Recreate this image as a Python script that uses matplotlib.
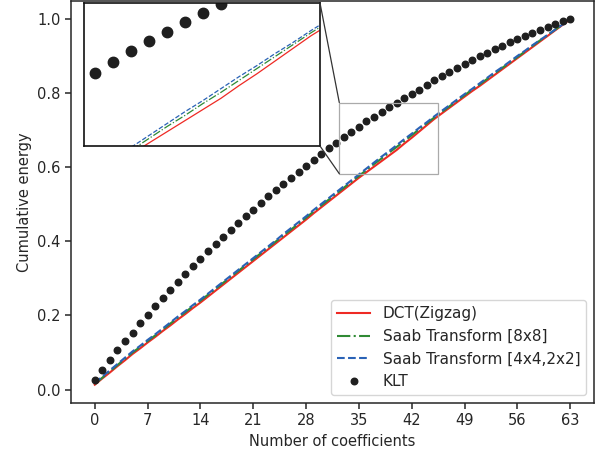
import numpy as np
import matplotlib
matplotlib.use('Agg')
import matplotlib.pyplot as plt
from matplotlib.patches import Rectangle, ConnectionPatch
from matplotlib import rcParams

rcParams['font.family'] = 'DejaVu Sans'
rcParams['text.color'] = '#262626'
rcParams['axes.labelcolor'] = '#262626'
rcParams['xtick.color'] = '#262626'
rcParams['ytick.color'] = '#262626'

n_coef = np.arange(64)

dct_zigzag = [0.013, 0.030, 0.046, 0.063, 0.079, 0.096, 0.111, 0.127, 0.142, 0.158,
              0.173, 0.189, 0.204, 0.220, 0.235, 0.251, 0.267, 0.283, 0.299, 0.315,
              0.331, 0.347, 0.363, 0.379, 0.395, 0.411, 0.427, 0.443, 0.459, 0.476,
              0.492, 0.508, 0.524, 0.540, 0.556, 0.572, 0.587, 0.602, 0.617, 0.632,
              0.647, 0.664, 0.680, 0.697, 0.714, 0.731, 0.746, 0.761, 0.776, 0.791,
              0.806, 0.820, 0.835, 0.850, 0.865, 0.880, 0.895, 0.910, 0.925, 0.940,
              0.955, 0.970, 0.985, 1.000]
saab_8x8 = [0.015, 0.032, 0.049, 0.066, 0.083, 0.100, 0.115, 0.131, 0.146, 0.162,
            0.178, 0.194, 0.209, 0.225, 0.240, 0.256, 0.272, 0.288, 0.304, 0.320,
            0.336, 0.352, 0.368, 0.384, 0.400, 0.416, 0.432, 0.448, 0.464, 0.481,
            0.497, 0.513, 0.529, 0.545, 0.561, 0.577, 0.593, 0.609, 0.624, 0.640,
            0.655, 0.671, 0.687, 0.703, 0.719, 0.735, 0.750, 0.765, 0.780, 0.795,
            0.810, 0.824, 0.839, 0.854, 0.869, 0.883, 0.898, 0.913, 0.928, 0.943,
            0.957, 0.972, 0.986, 1.000]
saab_4x4_2x2 = [0.017, 0.035, 0.052, 0.069, 0.086, 0.103, 0.118, 0.134, 0.149, 0.165,
                0.181, 0.197, 0.212, 0.228, 0.243, 0.259, 0.275, 0.291, 0.307, 0.323,
                0.339, 0.355, 0.371, 0.387, 0.403, 0.420, 0.436, 0.452, 0.468, 0.485,
                0.501, 0.517, 0.533, 0.549, 0.565, 0.581, 0.597, 0.613, 0.629, 0.644,
                0.660, 0.676, 0.691, 0.707, 0.722, 0.738, 0.753, 0.768, 0.783, 0.798,
                0.812, 0.827, 0.842, 0.857, 0.871, 0.886, 0.901, 0.915, 0.930, 0.944,
                0.958, 0.972, 0.986, 1.000]
klt = [0.027, 0.053, 0.079, 0.106, 0.130, 0.154, 0.180, 0.202, 0.226, 0.247,
       0.269, 0.291, 0.312, 0.333, 0.353, 0.373, 0.393, 0.412, 0.431, 0.450,
       0.468, 0.486, 0.505, 0.522, 0.538, 0.556, 0.572, 0.588, 0.604, 0.620,
       0.637, 0.652, 0.667, 0.681, 0.696, 0.710, 0.724, 0.736, 0.749, 0.762,
       0.774, 0.787, 0.798, 0.810, 0.823, 0.835, 0.846, 0.857, 0.869, 0.879,
       0.890, 0.900, 0.910, 0.920, 0.929, 0.938, 0.947, 0.955, 0.963, 0.971,
       0.979, 0.986, 0.994, 1.000]

xticks = [0, 7, 14, 21, 28, 35, 42, 49, 56, 63]
zoom_x = (32.4, 45.5)
zoom_y = (0.583, 0.775)

c_red, c_green, c_blue, c_dot = '#ee2a24', '#2f8a34', '#2a62b6', '#1f1f1f'

fig = plt.figure(figsize=(6.06, 4.54), dpi=100)
ax = fig.add_axes([71/606, 51/454, 523/606, 402/454])


def draw(a, lw, ms):
    a.plot(n_coef, dct_zigzag, '-', color=c_red, lw=lw, label='DCT(Zigzag)')
    a.plot(n_coef, saab_8x8, '-.', color=c_green, lw=lw, label='Saab Transform [8x8]')
    a.plot(n_coef, saab_4x4_2x2, '--', color=c_blue, lw=lw, label='Saab Transform [4x4,2x2]')
    a.plot(n_coef, klt, 'o', color=c_dot, ms=ms, label='KLT')


draw(ax, 1.5, 4.7)
ax.set_xticks(xticks)
ax.set_yticks(np.linspace(0, 1, 6))
ax.tick_params(labelsize=10.5, length=4, width=1.1)
for s in ax.spines.values():
    s.set_linewidth(1.1)
    s.set_color('#262626')
ax.set_xlabel('Number of coefficients', fontsize=10.5)
ax.set_ylabel('Cumulative energy', fontsize=10.5)
ax.legend(loc='lower right', fontsize=11, handlelength=2.2)

# zoomed inset
axins = fig.add_axes([84/606, (454-146)/454, 236/606, 143/454])
draw(axins, 0.9, 7.5)
axins.set_xlim(*zoom_x)
axins.set_ylim(*zoom_y)
axins.set_xticks([])
axins.set_yticks([])
for s in axins.spines.values():
    s.set_linewidth(1.2)
    s.set_color('#111111')

ax.add_patch(Rectangle((zoom_x[0], zoom_y[0]), zoom_x[1]-zoom_x[0], zoom_y[1]-zoom_y[0],
                       fill=False, edgecolor='#aaaaaa', lw=0.9, zorder=5))
for ya, yb in [(zoom_y[1], 1), (zoom_y[0], 0)]:
    con = ConnectionPatch(xyA=(zoom_x[0], ya), coordsA=ax.transData,
                          xyB=(1, yb), coordsB=axins.transAxes,
                          color='#333333', lw=0.9)
    fig.add_artist(con)

fig.savefig('out.png', dpi=100)
